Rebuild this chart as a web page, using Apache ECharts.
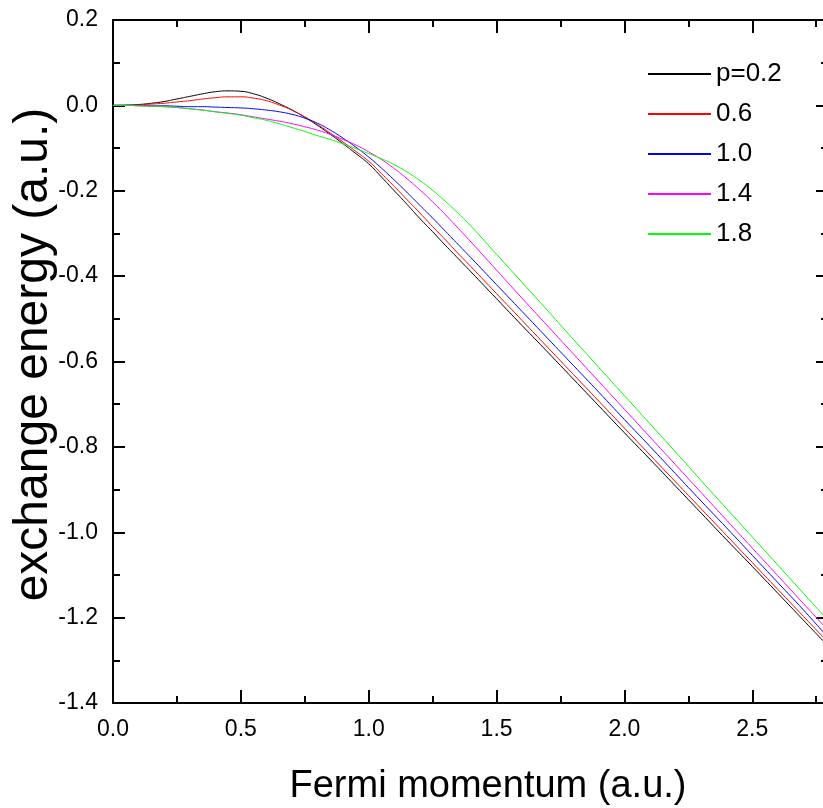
<!DOCTYPE html>
<html>
<head>
<meta charset="utf-8">
<script src="https://cdn.jsdelivr.net/npm/echarts@6/dist/echarts.min.js"></script>
<style>html,body{margin:0;padding:0;background:#fff;}#c{width:823px;height:808px;}</style>
</head>
<body>
<div id="c"></div>
<script>
const xValues = [0.0,0.05,0.1,0.15,0.2,0.25,0.3,0.35,0.4,0.45,0.5,0.55,0.6,0.65,0.7,0.75,0.8,0.85,0.9,0.95,1.0,1.05,1.1,1.15,1.2,1.25,1.3,1.35,1.4,
  1.5,1.6,1.7,1.8,1.9,2.0,2.1,2.2,2.3,2.4,2.5,2.6,2.7,2.8];
const seriesNames = ['p=0.2','0.6','1.0','1.4','1.8'];
const seriesColors = ['#000000','#ff0000','#0000ff','#ff00ff','#00ff00'];
const p02 = [0,0.0005,0.002,0.005,0.009,0.015,0.021,0.027,0.032,0.034,0.033,0.027,0.017,0.004,-0.011,-0.028,-0.047,-0.068,-0.09,-0.113,-0.137,-0.168,-0.2,-0.232,-0.265,-0.296,-0.328,-0.359,-0.39,
  -0.453,-0.516,-0.578,-0.641,-0.704,-0.767,-0.829,-0.892,-0.955,-1.018,-1.08,-1.143,-1.206,-1.269];
const p06 = [0,0,0.001,0.003,0.005,0.008,0.011,0.015,0.018,0.02,0.02,0.017,0.011,0.001,-0.011,-0.027,-0.045,-0.065,-0.086,-0.108,-0.131,-0.16,-0.19,-0.221,-0.252,-0.284,-0.315,-0.347,-0.378,
  -0.441,-0.504,-0.567,-0.63,-0.693,-0.756,-0.819,-0.882,-0.945,-1.008,-1.071,-1.134,-1.197,-1.26];
const p10 = [0,0,0,-0.001,-0.001,-0.002,-0.003,-0.003,-0.004,-0.005,-0.006,-0.008,-0.011,-0.015,-0.021,-0.03,-0.042,-0.058,-0.077,-0.098,-0.121,-0.147,-0.175,-0.204,-0.234,-0.264,-0.295,-0.326,-0.357,
  -0.42,-0.483,-0.546,-0.609,-0.672,-0.736,-0.799,-0.863,-0.927,-0.99,-1.054,-1.118,-1.182,-1.249];
const p14 = [0,0,-0.001,-0.002,-0.003,-0.005,-0.008,-0.011,-0.015,-0.018,-0.022,-0.027,-0.032,-0.037,-0.043,-0.05,-0.058,-0.068,-0.08,-0.093,-0.109,-0.127,-0.148,-0.172,-0.198,-0.226,-0.256,-0.288,-0.32,
  -0.386,-0.452,-0.517,-0.582,-0.647,-0.712,-0.777,-0.842,-0.907,-0.972,-1.037,-1.102,-1.167,-1.232];
const p18 = [0,0,-0.001,-0.002,-0.003,-0.005,-0.008,-0.011,-0.015,-0.019,-0.023,-0.029,-0.035,-0.043,-0.052,-0.061,-0.071,-0.08,-0.09,-0.101,-0.113,-0.125,-0.139,-0.156,-0.176,-0.199,-0.225,-0.253,-0.283,
  -0.349,-0.415,-0.481,-0.548,-0.614,-0.68,-0.746,-0.812,-0.879,-0.945,-1.011,-1.077,-1.143,-1.209];
const allSeries = [p02,p06,p10,p14,p18];

const FONT = '"Liberation Sans", Arial, sans-serif';
const chart = echarts.init(document.getElementById('c'), null, {renderer:'canvas'});
const axisLine = {show:true, onZero:false, lineStyle:{color:'#000', width:2}};
const majorTick = (len) => ({show:true, inside:true, length:len, lineStyle:{color:'#000', width:2}});
const minorTick = (len) => ({show:true, splitNumber:2, length:len, lineStyle:{color:'#000', width:2}});

chart.setOption({
  backgroundColor:'#fff',
  animation:false,
  grid:{left:113, top:20, right:-6, bottom:105, containLabel:false, outerBoundsMode:'none'},
  legend:{
    orient:'vertical', left:642, top:56, itemWidth:63, itemHeight:14, itemGap:14,
    itemStyle:{opacity:0},
    data:seriesNames, textStyle:{fontFamily:FONT, fontSize:26, lineHeight:26, color:'#000'}
  },
  xAxis:[{
    type:'value', min:0, max:2.8, interval:0.5, position:'bottom',
    name:'Fermi momentum (a.u.)', nameLocation:'middle', nameGap:65,
    nameTextStyle:{fontFamily:FONT, fontSize:38, color:'#000', padding:[0,0,0,34]},
    axisLine:axisLine, axisTick:majorTick(13), minorTick:minorTick(7),
    splitLine:{show:false},
    axisLabel:{fontFamily:FONT, fontSize:23, color:'#000', margin:15, showMaxLabel:false,
      formatter:(v)=>v.toFixed(1)}
  },{
    type:'value', min:0, max:2.8, interval:0.5, position:'top',
    axisLine:axisLine, axisTick:majorTick(13), minorTick:minorTick(7),
    splitLine:{show:false}, axisLabel:{show:false}
  }],
  yAxis:[{
    type:'value', min:-1.4, max:0.2, interval:0.2, position:'left',
    name:'exchange energy (a.u.)', nameLocation:'middle', nameGap:55, nameMoveOverlap:false,
    nameTextStyle:{fontFamily:FONT, fontSize:48, color:'#000', padding:[0,0,0,14]},
    axisLine:axisLine, axisTick:majorTick(12), minorTick:minorTick(7),
    splitLine:{show:false},
    axisLabel:{fontFamily:FONT, fontSize:23, color:'#000', margin:15,
      formatter:(v)=>v.toFixed(1)}
  },{
    type:'value', min:-1.4, max:0.2, interval:0.2, position:'right',
    axisLine:axisLine, axisTick:majorTick(13), minorTick:minorTick(8),
    splitLine:{show:false}, axisLabel:{show:false}
  }],
  series: seriesNames.map((n,i)=>({
    name:n, type:'line', smooth:true, symbol:'none',
    lineStyle:{color:seriesColors[i], width:1}, itemStyle:{color:seriesColors[i]},
    data: xValues.map((x,j)=>[x, allSeries[i][j]])
  }))
});
</script>
</body>
</html>
